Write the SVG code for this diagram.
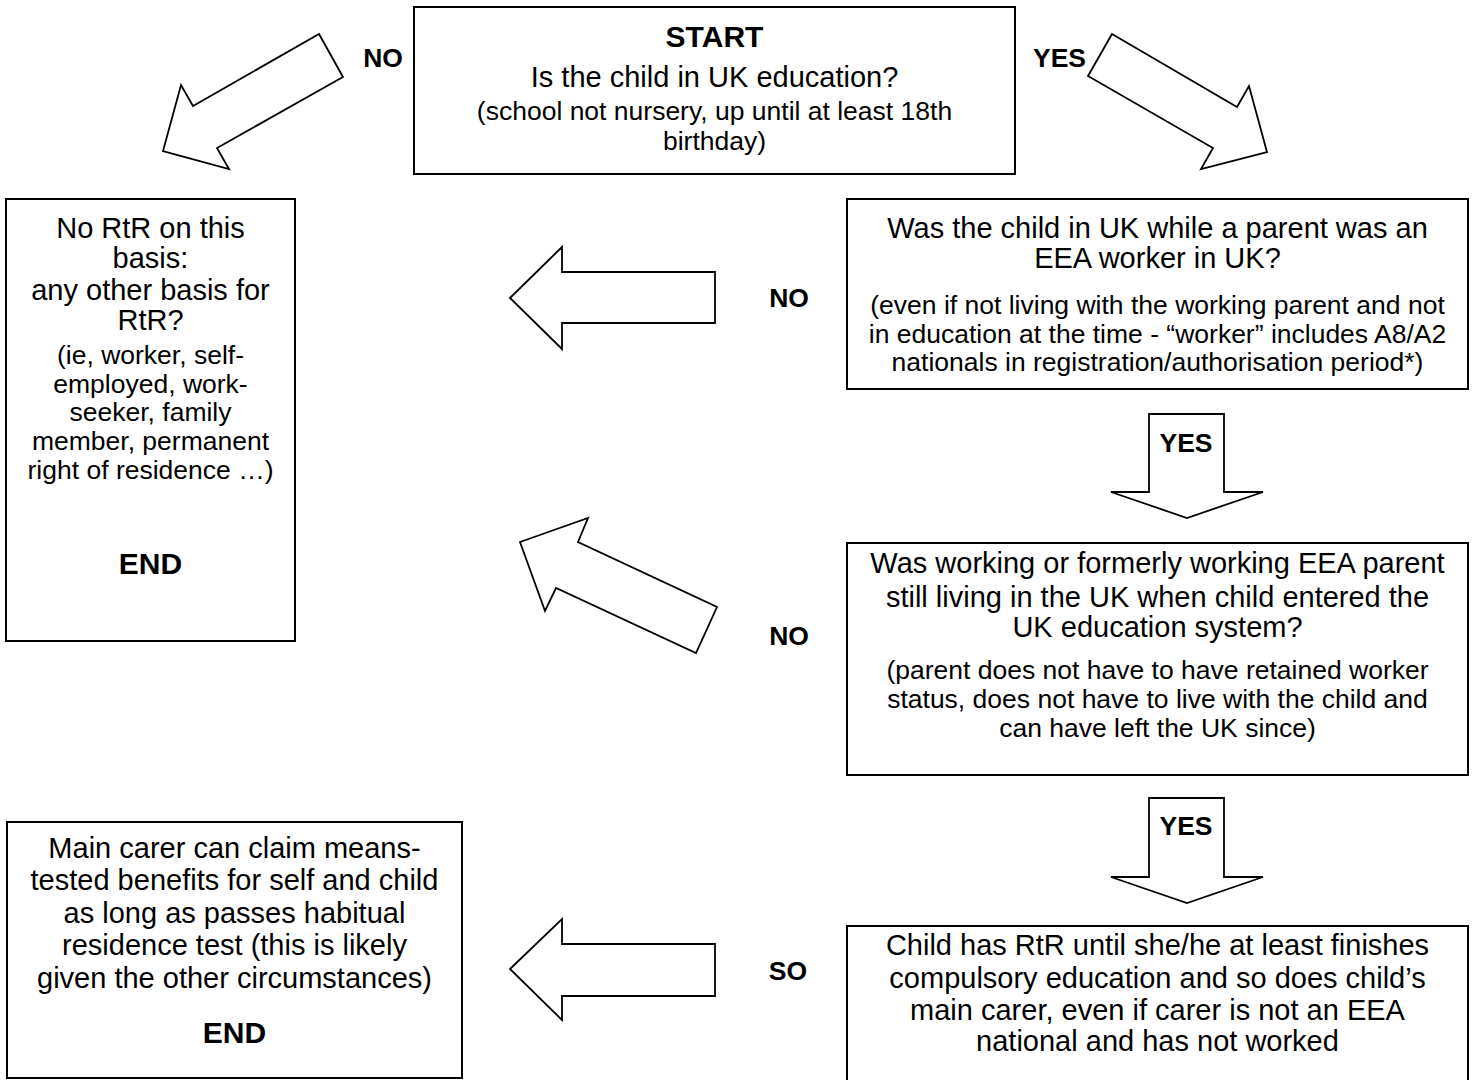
<svg xmlns="http://www.w3.org/2000/svg" width="1475" height="1080" viewBox="0 0 1475 1080">
<style>
  .box { fill: #ffffff; stroke: #000000; stroke-width: 2; }
  .arrow { fill: #ffffff; stroke: #000000; stroke-width: 1.8; stroke-linejoin: miter; }
  text { font-family: "Liberation Sans", Arial, sans-serif; fill: #000000; text-anchor: middle; }
  .t { font-size: 29px; }
  .p { font-size: 26.5px; }
  .b { font-size: 30px; font-weight: bold; }
  .lbl { font-size: 26.5px; font-weight: bold; }
</style>
<rect width="1475" height="1080" fill="#ffffff"/>

<g id="connectors">
  <polygon class="arrow" points="319,34 343,77 217,148 229,169 163,151 181,85 193,106"/>
  <polygon class="arrow" points="1112,34 1237,107 1249,86 1267,152 1201,169 1213,148 1088,76"/>
  <polygon class="arrow" points="510,298 562,247 562,272 715,272 715,323 562,323 562,349"/>
  <polygon class="arrow" points="520,542 588,518 578,542 717,607 696,653 556,588 545,611"/>
  <polygon class="arrow" points="1149,414 1224,414 1224,492 1263,492 1187,518 1111,492 1149,492"/>
  <polygon class="arrow" points="1149,798 1224,798 1224,877 1263,877 1187,903 1111,877 1149,877"/>
  <polygon class="arrow" points="510,969 562,919 562,944 715,944 715,996 562,996 562,1020"/>
  <text class="lbl" x="383" y="67">NO</text>
  <text class="lbl" x="1086" y="67" style="text-anchor:end">YES</text>
  <text class="lbl" x="789" y="307">NO</text>
  <text class="lbl" x="1186" y="452">YES</text>
  <text class="lbl" x="789" y="645">NO</text>
  <text class="lbl" x="1186" y="835">YES</text>
  <text class="lbl" x="788" y="980">SO</text>
</g>

<g id="start">
  <rect class="box" x="414" y="7" width="601" height="167"/>
  <text class="b" x="714.5" y="47">START</text>
  <text class="t" x="714.5" y="87">Is the child in UK education?</text>
  <text class="p" x="714.5" y="120">(school not nursery, up until at least 18th</text>
  <text class="p" x="714.5" y="150">birthday)</text>
</g>

<g id="no-rtr">
  <rect class="box" x="6" y="199" width="289" height="442"/>
  <text class="t" x="150.5" y="238">No RtR on this</text>
  <text class="t" x="150.5" y="268">basis:</text>
  <text class="t" x="150.5" y="300">any other basis for</text>
  <text class="t" x="150.5" y="330">RtR?</text>
  <text class="p" x="150.5" y="364">(ie, worker, self-</text>
  <text class="p" x="150.5" y="393">employed, work-</text>
  <text class="p" x="150.5" y="421">seeker, family</text>
  <text class="p" x="150.5" y="450">member, permanent</text>
  <text class="p" x="150.5" y="479">right of residence …)</text>
  <text class="b" x="150.5" y="574">END</text>
</g>

<g id="eea-worker">
  <rect class="box" x="847" y="199" width="621" height="190"/>
  <text class="t" x="1157.5" y="238">Was the child in UK while a parent was an</text>
  <text class="t" x="1157.5" y="268">EEA worker in UK?</text>
  <text class="p" x="1157.5" y="314">(even if not living with the working parent and not</text>
  <text class="p" x="1157.5" y="343">in education at the time - “worker” includes A8/A2</text>
  <text class="p" x="1157.5" y="371">nationals in registration/authorisation period*)</text>
</g>

<g id="parent-living">
  <rect class="box" x="847" y="543" width="621" height="232"/>
  <text class="t" x="1157.5" y="573">Was working or formerly working EEA parent</text>
  <text class="t" x="1157.5" y="607">still living in the UK when child entered the</text>
  <text class="t" x="1157.5" y="637">UK education system?</text>
  <text class="p" x="1157.5" y="679">(parent does not have to have retained worker</text>
  <text class="p" x="1157.5" y="708">status, does not have to live with the child and</text>
  <text class="p" x="1157.5" y="737">can have left the UK since)</text>
</g>

<g id="child-rtr">
  <rect class="box" x="847" y="926" width="621" height="168"/>
  <text class="t" x="1157.5" y="955">Child has RtR until she/he at least finishes</text>
  <text class="t" x="1157.5" y="988">compulsory education and so does child’s</text>
  <text class="t" x="1157.5" y="1020">main carer, even if carer is not an EEA</text>
  <text class="t" x="1157.5" y="1051">national and has not worked</text>
</g>

<g id="main-carer">
  <rect class="box" x="7" y="822" width="455" height="256"/>
  <text class="t" x="234.5" y="858">Main carer can claim means-</text>
  <text class="t" x="234.5" y="890">tested benefits for self and child</text>
  <text class="t" x="234.5" y="923">as long as passes habitual</text>
  <text class="t" x="234.5" y="955">residence test (this is likely</text>
  <text class="t" x="234.5" y="988">given the other circumstances)</text>
  <text class="b" x="234.5" y="1043">END</text>
</g>
</svg>
